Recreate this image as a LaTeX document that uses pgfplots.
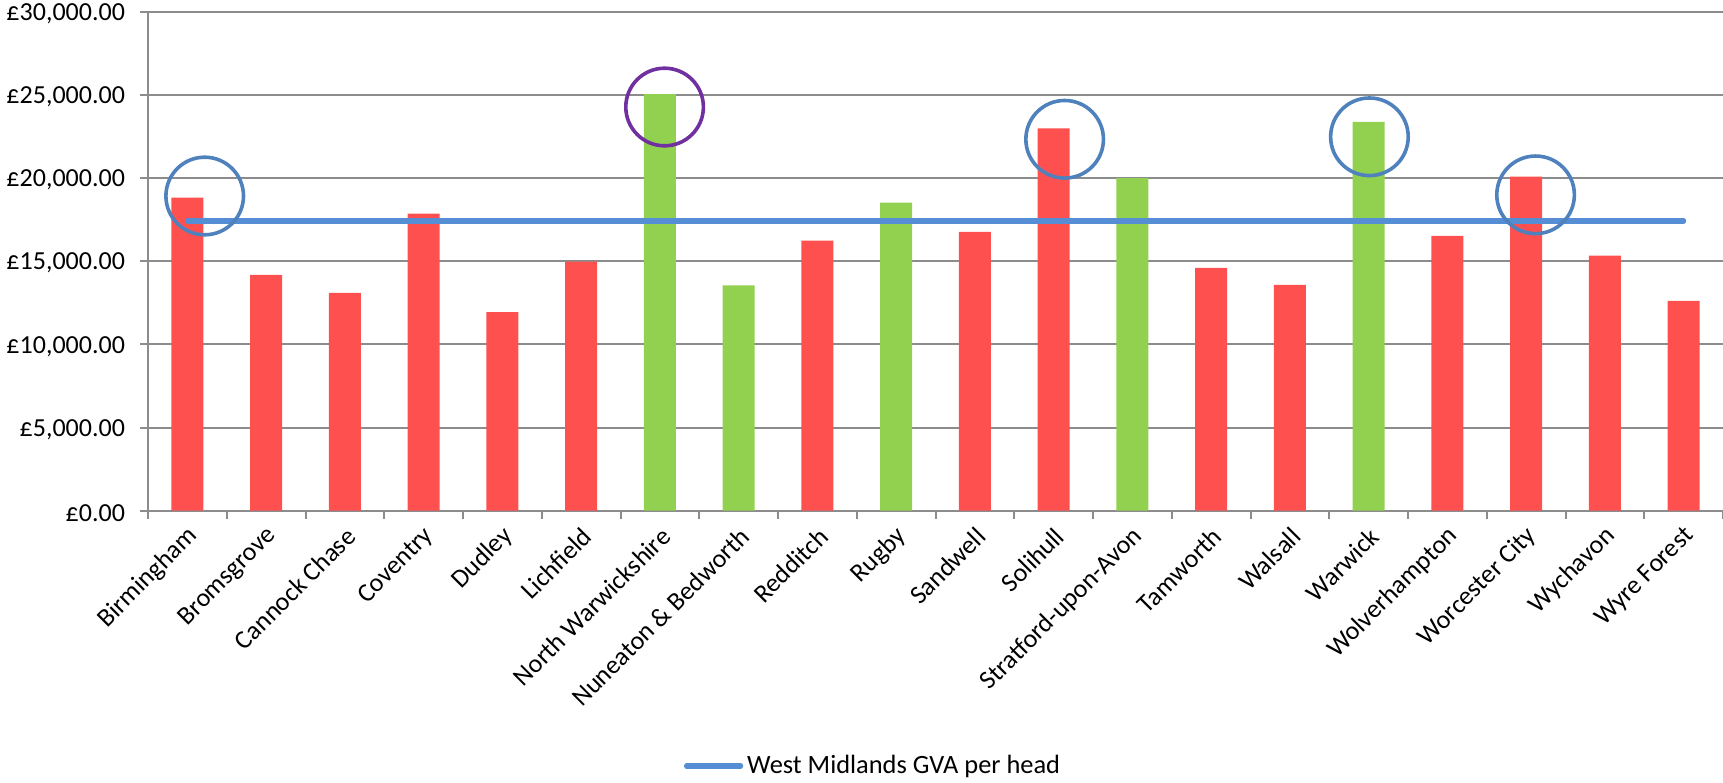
\documentclass[border=0pt]{standalone}
\usepackage{fontspec}
\setmainfont{Carlito}
\usepackage{pgfplots}
\pgfplotsset{compat=1.18}
\definecolor{barred}{HTML}{FF5050}
\definecolor{bargreen}{HTML}{92D050}
\definecolor{avgblue}{HTML}{558ED5}
\definecolor{ringblue}{HTML}{4F81BD}
\definecolor{ringpurple}{HTML}{7030A0}
\definecolor{axgray}{HTML}{8C8C8C}
\begin{document}
\begin{tikzpicture}
\begin{axis}[
  at={(74pt,135.65pt)}, anchor=south west,
  scale only axis, width=787.5pt, height=249.5pt,
  xmin=-0.5, xmax=19.5, ymin=0, ymax=30000,
  axis lines*=left,
  axis line style={axgray, line width=1pt},
  ymajorgrids, grid style={axgray, line width=1pt},
  ytick={0,5000,10000,15000,20000,25000,30000},
  yticklabels={£0.00,{£5,000.00},{£10,000.00},{£15,000.00},{£20,000.00},{£25,000.00},{£30,000.00}},
  xtick={0,...,19},
  xticklabels={Birmingham,Bromsgrove,Cannock Chase,Coventry,Dudley,Lichfield,North Warwickshire,Nuneaton \& Bedworth,Redditch,Rugby,Sandwell,Solihull,Stratford-upon-Avon,Tamworth,Walsall,Warwick,Wolverhampton,Worcester City,Wychavon,Wyre Forest},
  minor xtick={-0.5,0.5,...,19.5},
  tick align=outside,
  major x tick style={draw=none},
  minor x tick style={axgray, line width=1pt},
  y tick style={axgray, line width=1pt},
  major tick length=4pt, minor tick length=4pt,
  tick label style={font=\fontsize{13}{15}\selectfont},
  yticklabel style={xshift=-4pt, yshift=-1pt},
  xticklabel style={rotate=45, anchor=east, inner sep=1pt, xshift=-1.5pt, yshift=-7pt},
  legend style={at={(0.461,-0.5116)}, anchor=center, draw=none, fill=none,
    font=\fontsize{13.2}{15}\selectfont},
  legend image code/.code={\draw[#1, line cap=round] (0pt,0pt) -- (27pt,0pt);},
]
\addplot[ybar, bar width=16pt, bar shift=0pt, fill=barred, draw=none, forget plot] coordinates {
 (0,18820) (1,14180) (2,13100) (3,17860) (4,11940) (5,14980)
 (8,16240) (10,16760) (11,22980) (13,14600) (14,13580)
 (16,16520) (17,20080) (18,15340) (19,12620)};
\addplot[ybar, bar width=16pt, bar shift=0pt, fill=bargreen, draw=none, forget plot] coordinates {
 (6,25040) (7,13540) (9,18520) (12,20000) (15,23380)};
\addplot[avgblue, line width=2.6pt, line cap=round, mark=none] coordinates {
 (0,17420) (1,17420) (2,17420) (3,17420) (4,17420) (5,17420) (6,17420) (7,17420) (8,17420) (9,17420)
 (10,17420) (11,17420) (12,17420) (13,17420) (14,17420) (15,17420) (16,17420) (17,17420) (18,17420) (19,17420)};
\addlegendentry{West Midlands GVA per head}
\addplot[only marks, mark=o, mark size=19.4pt, mark options={ringblue, line width=1.8pt}, forget plot] coordinates {
 (0.22,18920) (11.14,22330) (15.01,22480) (17.12,18990)};
\addplot[only marks, mark=o, mark size=19.4pt, mark options={ringpurple, line width=1.8pt}, forget plot] coordinates {
 (6.06,24270)};
\end{axis}
\pgfresetboundingbox
\path[use as bounding box] (0,0) rectangle (861.5pt,391pt);
\end{tikzpicture}
\end{document}
